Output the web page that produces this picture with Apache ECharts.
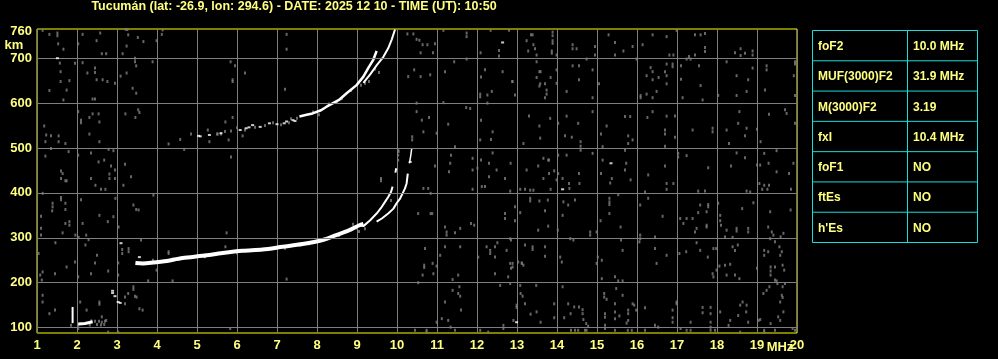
<!DOCTYPE html>
<html>
<head>
<meta charset="utf-8">
<script src="https://cdn.jsdelivr.net/npm/echarts@6/dist/echarts.min.js"></script>
<style>
html,body{margin:0;padding:0;background:#000;}
#chart{width:998px;height:359px;}
</style>
</head>
<body>
<div id="chart"></div>
<script>
// ---------- DATA ----------
const titleText = "Tucumán (lat: -26.9, lon: 294.6) - DATE: 2025 12 10 - TIME (UT): 10:50";
const heightTicks = [100, 200, 300, 400, 500, 600, 700, 760];
const freqTicks = [1,2,3,4,5,6,7,8,9,10,11,12,13,14,15,16,17,18,19,20];
const paramNames = ["foF2", "MUF(3000)F2", "M(3000)F2", "fxI", "foF1", "ftEs", "h'Es"];
const paramValues = ["10.0 MHz", "31.9 MHz", "3.19", "10.4 MHz", "NO", "NO", "NO"];

// F-layer first hop, thick common part [MHz, km]
const traceF = [[3.46,244],[3.64,243],[4.14,247],[4.64,255],[5.14,260],[5.64,266],[6.14,271],[6.64,274],[7.14,280],[7.64,286],[8.14,295],[8.48,306],[8.81,317],[9.06,328],[9.16,331]];
// O-mode branch near the critical frequency
const traceFO = [[9.06,328],[9.16,326],[9.33,339],[9.49,354],[9.62,369],[9.7,380],[9.78,391],[9.85,402],[9.89,414]];
const traceFOtop = [[9.96,445],[9.98,455]];
// X-mode branch
const traceFX = [[9.49,336],[9.62,343],[9.78,354],[9.91,365],[9.99,377],[10.08,388],[10.14,399],[10.2,410],[10.24,421],[10.27,443]];
const traceFXtop = [[10.31,466],[10.34,481],[10.37,500]];
// second hop: broken low part (white dots)
const hop2Dots = [[5.04,527],[5.08,526],[5.31,529],[5.6,533],[6.08,540],[6.23,544],[6.3,546],[6.39,551],[6.58,547],[6.81,555],[7.0,553],[7.18,555],[7.24,559],[7.4,562],[7.45,560]];
const hop2Gray = [[5.5,531],[5.7,537],[5.85,538],[6.0,545],[6.2,540],[6.45,546],[6.7,550],[6.9,556],[7.1,552],[7.3,556],[7.35,565],[7.5,566],[7.9,580],[8.05,574],[8.3,598],[8.5,602],[8.62,610],[8.85,628],[9.1,640],[9.2,644],[9.45,676],[9.55,668],[9.3,648]];
// second hop: continuous upper part
const hop2Main = [[7.56,570],[7.74,574],[7.89,577],[8.1,584],[8.24,592],[8.4,600],[8.55,607],[8.74,622],[8.99,640],[9.16,659],[9.28,678],[9.41,697],[9.49,716]];
const hop2Upper = [[9.16,645],[9.33,664],[9.49,684],[9.66,703],[9.78,722],[9.87,742],[9.95,764]];
// low echoes
const esVertical = [[1.89,110],[1.89,146]];
const traceE = [[2.03,108],[2.2,109],[2.39,113]];
const whiteSpecks = [[3.56,257],[3.1,288],[2.89,182],[2.89,177],[2.95,170],[3.03,157],[3.08,155],[12.64,735],[12.99,112],[15.35,466],[14.14,408],[10.33,469],[1.51,700]];
const grayNearTrace = [[2.45,114],[2.55,114],[2.62,112],[2.5,107],[2.6,106],[2.68,107],[2.7,114],[2.32,106],[2.36,115],[3.9,250],[4.4,252],[5.2,258],[6.0,266],[7.2,277],[7.8,287],[8.55,305],[8.7,312],[8.85,318],[9.0,322],[9.05,314],[8.9,330],[9.2,320],[10.03,495],[10.03,484],[10.03,473],[9.85,383]];

const noiseTop = [[1.14,762],[1.31,753],[1.51,756],[1.51,750],[1.53,732],[1.66,720],[1.57,689],[1.59,670],[1.59,648],[1.81,650],[1.31,628],[1.74,629],[1.66,607],[1.95,689],[2.03,732],[2.14,753],[2.14,690],[2.26,667],[2.45,678],[2.45,668],[2.49,739],[2.58,756],[2.62,710],[2.73,710],[2.49,652],[2.64,652],[2.76,648],[2.95,644],[2.39,609],[2.45,609],[3.09,660],[3.14,710],[3.22,764],[3.26,764],[3.24,727],[3.28,752],[3.39,633],[3.48,622],[3.24,667],[3.45,700],[3.45,692],[3.48,683],[3.52,746],[3.66,737],[3.99,739],[3.89,692],[4.14,763],[4.12,753],[3.53,585],[5.84,692],[5.95,683],[5.89,652],[5.89,648],[6.2,667],[7.2,631],[7.24,753],[7.24,720],[10.26,754],[10.41,754],[10.49,742],[10.56,740],[10.64,730],[10.76,730],[10.95,732],[10.59,712],[10.9,712],[11.16,762],[11.74,756],[11.74,748],[12.34,762],[12.8,762],[11.2,670],[11.43,692],[11.74,698],[12.09,712],[12.2,674],[12.55,717],[12.55,705],[12.88,648],[12.37,626],[12.08,620],[12.08,614],[11.73,590],[11.83,588],[12.26,618],[12.26,600],[11.16,601],[10.49,600],[10.49,581],[10.43,674],[10.28,659],[10.59,659],[10.83,663],[12.1,658],[13.24,739],[13.35,752],[13.39,752],[13.89,758],[13.89,750],[13.89,739],[13.89,733],[13.41,730],[13.28,716],[13.45,721],[13.87,716],[13.87,711],[13.49,707],[13.99,707],[14.39,730],[14.39,721],[14.49,721],[14.95,726],[14.95,707],[14.74,698],[15.29,752],[15.45,735],[15.45,707],[15.66,716],[15.89,726],[15.99,698],[16.14,730],[16.39,752],[16.74,748],[16.81,707],[16.91,707],[16.99,762],[17.45,752],[17.59,752],[17.7,755],[17.7,724],[17.7,715],[17.45,707],[17.3,704],[17.24,698],[17.34,698],[18.45,712],[18.59,721],[18.59,706],[18.7,711],[18.89,716],[18.89,707],[13.49,692],[13.56,670],[13.59,670],[12.64,670],[12.89,648],[12.95,618],[13.49,657],[13.84,657],[13.58,643],[13.7,643],[13.56,638],[13.74,629],[13.74,620],[13.7,612],[13.99,674],[13.99,644],[14.24,626],[14.39,683],[14.55,683],[14.55,652],[14.89,674],[14.89,612],[15.05,643],[16.24,661],[16.34,679],[16.39,670],[16.39,652],[16.54,657],[16.7,670],[16.74,661],[16.74,687],[16.89,687],[16.89,681],[16.49,626],[16.74,643],[16.09,617],[16.09,612],[16.24,620],[16.39,612],[17.1,683],[17.1,653],[17.14,612],[17.55,683],[17.59,639],[17.64,607],[18.03,617],[18.24,692],[18.49,661],[18.49,617],[18.74,626],[18.78,652],[18.89,678],[19.2,629],[19.24,683],[19.24,674],[19.92,661],[19.95,692],[19.95,687],[19.95,617]];

const noiseMid = [[2.03,581],[2.31,568],[2.39,576],[2.54,576],[2.1,562],[2.1,556],[2.56,558],[3.21,576],[3.46,568],[3.56,579],[1.18,549],[1.23,529],[1.35,527],[1.54,527],[1.54,514],[1.71,510],[1.21,514],[2.31,531],[2.56,514],[1.35,499],[1.21,482],[1.79,492],[2.03,484],[2.35,489],[2.54,469],[2.68,473],[2.79,497],[2.91,494],[2.85,460],[2.95,451],[2.81,442],[2.81,432],[2.95,432],[3.2,464],[1.6,449],[1.64,443],[1.71,427],[1.74,427],[1.6,432],[2.35,432],[2.46,417],[2.6,408],[2.71,408],[3.35,436],[3.16,417],[1.14,399],[1.6,390],[1.6,385],[1.39,377],[1.39,369],[1.71,377],[1.38,360],[1.71,363],[2.1,385],[1.1,348],[1.81,336],[1.81,328],[1.71,332],[2.14,332],[2.56,350],[2.77,336],[2.91,347],[2.96,388],[3.41,373],[3.48,363],[3.54,362],[3.91,395],[1.1,321],[1.1,306],[1.64,311],[1.96,306],[2.04,301],[2.23,306],[2.29,296],[3.04,324],[1.46,289],[2.21,284],[2.5,261],[1.04,265],[3.13,274],[3.13,265],[3.29,276],[3.29,269],[3.6,295],[4.29,269],[4.29,265],[4.68,497],[4.58,519],[4.29,509],[4.85,531],[5.27,540],[5.31,514],[5.52,531],[5.6,531],[5.71,558],[5.89,568],[5.79,518],[5.85,480],[5.74,311],[5.71,280],[6.14,527],[9.6,432],[9.6,427],[10.04,492],[10.38,525],[10.38,518],
[10.62,562],[10.8,568],[10.66,536],[10.99,533],[11.28,553],[11.35,484],[11.33,466],[11.89,477],[11.89,451],[12.1,562],[12.08,518],[12.39,536],[12.39,489],[12.1,473],[12.3,466],[12.3,436],[12.49,451],[12.7,432],[12.84,466],[12.12,414],[12.2,414],[11.89,408],[12.83,404],[13.3,571],[13.56,549],[13.58,522],[13.83,566],[13.16,510],[13.24,451],[13.53,460],[13.66,477],[13.78,473],[13.66,432],[13.99,429],[13.33,406],[13.41,406],[13.08,408],[13.2,408],[13.84,408],[14.03,555],[14.24,571],[14.2,527],[14.37,524],[14.59,514],[14.59,504],[14.59,495],[14.53,555],[14.89,581],[14.89,488],[14.3,421],[14.03,443],[14.14,432],[14.55,443],[15.1,531],[15.24,549],[15.14,503],[15.14,473],[15.1,443],[15.37,432],[15.33,422],[15.73,466],[15.7,495],[15.7,451],[15.84,429],[15.78,510],[15.7,570],[15.83,570],[15.78,527],[15.89,518],[16.26,568],[16.39,581],[16.74,571],[16.95,571],[16.7,540],[16.7,531],[16.95,524],[16.7,504],[17.03,488],[17.03,480],[17.24,483],[16.7,460],[16.28,440],[16.74,421],[16.74,408],[16.91,421],[17.39,540],[17.89,544],[17.89,536],[18.24,540],[18.53,555],[18.74,544],[18.7,527],[18.3,510],[18.56,581],[19.0,542],[19.3,575],[19.09,514],[19.49,494],[19.74,577],[19.7,585],[19.95,555],[18.49,489],[18.7,478],[19.0,462],[19.08,462],[19.29,466],[19.49,447],[19.8,443],[19.91,466],[18.35,460],[17.78,456],[19.18,488],[19.06,421],[19.18,417],[19.13,408],[19.26,408],[19.3,417],[19.85,408],[17.53,404],[17.7,404],[18.74,404],[18.83,402],[16.2,402],[16.28,388],[16.08,373],[15.53,396],[15.31,388],[15.31,380],[15.31,374],[15.59,324],[15.09,338],[15.31,354],[14.83,313],[14.83,306],[14.99,313],[15.02,257],[15.12,250],[15.6,295],[15.64,272],[16.08,306],[16.08,298],[16.45,302],[16.45,276],[16.74,261],[16.64,348],[17.08,343],[17.24,343],[17.39,343],[17.16,332],[17.49,321],[17.45,313],[17.74,328],[17.74,324],[17.58,373],[17.78,374],[17.78,369],[17.74,358],[18.08,350],[18.08,338],[18.1,328],[18.03,377],[18.24,317],[18.49,321],[18.49,315],[18.78,321],[18.78,313],[18.2,302],[18.39,301],[18.63,365],[18.91,378],[19.33,358],[19.28,324],[19.37,313],[19.41,306],[19.33,298],[19.45,291],[19.59,302],[19.56,280],[19.62,269],[19.58,261],[19.84,362],[19.66,310],[19.18,272],[19.18,261],[19.28,269],[18.39,280],[18.45,272],[18.52,284],[17.91,276],[17.98,276],[17.77,257],[17.58,272],[17.49,289],[17.23,269],[17.06,265],[16.06,291],[14.33,298],[14.41,295],[14.08,257],[14.12,246],[13.7,280],[13.7,259],[13.39,280],[13.39,274],[13.2,284],[13.03,246],[13.12,244],[12.83,298],[12.51,289],[12.45,280],[12.24,280],[12.33,272],[12.33,265],[12.03,257],[12.45,257],[12.74,272],[12.85,295],[11.85,332],[11.93,328],[11.58,321],[11.45,311],[11.2,324],[11.24,313],[11.24,306],[10.53,354],[10.84,354],[10.88,354],[10.7,276],[11.08,261],[11.2,280],[11.58,280],[13.08,356],[12.95,369],[12.7,354],[12.7,343],[12.95,338],[13.33,388],[13.33,382],[13.56,382],[13.7,360],[13.77,384],[14.16,380],[14.28,373],[14.45,384],[14.14,350],[13.53,317],[13.78,326],[14.02,317],[17.53,356],[10.66,410],[10.78,410],[10.84,399],[14.31,410],[14.56,421],[14.24,484],[14.03,484],[12.35,519],[11.45,503],[10.95,460],[11.3,447],[12.01,455],[13.8,473],[13.8,443],[13.93,449]];

const noiseLow = [[1.08,217],[1.12,206],[1.14,224],[1.45,220],[1.74,235],[1.95,246],[2.03,213],[2.35,220],[2.45,244],[2.78,226],[3.03,244],[3.03,217],[1.14,172],[1.14,157],[1.31,131],[1.45,139],[2.08,157],[2.24,139],[2.56,157],[2.56,152],[2.62,124],[2.73,116],[3.2,168],[3.28,176],[3.41,191],[3.41,185],[3.45,170],[3.49,168],[3.2,153],[3.56,142],[3.64,139],[3.78,204],[3.99,228],[4.39,204],[2.78,90],[3.03,90],[1.85,105],[2.03,105],[2.03,98],[5.83,98],[7.24,208],[10.45,94],[10.74,94],[10.74,90],[10.99,112],[11.12,120],[11.28,116],[11.34,101],[11.45,94],[11.6,139],[11.2,157],[11.39,183],[11.53,176],[11.58,170],[11.56,191],[11.39,207],[11.53,217],[10.68,239],[10.68,234],[10.89,243],[10.91,220],[10.64,217],[10.53,200],[10.99,237],[12.08,94],[12.28,90],[12.45,220],[12.58,194],[12.66,105],[12.66,98],[12.78,213],[12.83,198],[12.85,232],[12.89,243],[12.91,116],[13.12,243],[13.16,239],[12.83,243],[12.89,235],[13.08,194],[13.09,176],[13.14,170],[12.99,150],[12.99,145],[13.2,153],[13.48,194],[13.49,135],[13.34,130],[13.59,112],[13.93,153],[13.93,122],[14.14,191],[14.18,122],[14.28,153],[14.34,131],[14.43,146],[14.55,146],[14.64,140],[14.64,131],[14.66,118],[14.73,109],[14.78,103],[14.35,94],[14.45,94],[14.53,94],[14.7,94],[14.74,94],[14.99,243],[15.12,209],[15.18,176],[15.18,168],[15.24,163],[15.2,131],[15.2,123],[15.2,105],[15.2,98],[15.45,213],[15.53,204],[15.64,204],[15.45,153],[15.45,135],[15.45,120],[15.45,94],[15.48,187],[15.56,126],[15.64,172],[15.78,139],[15.78,131],[15.78,116],[15.74,110],[15.77,94],[15.87,94],[15.89,153],[15.93,150],[15.98,139],[16.2,144],[16.2,94],[16.49,243],[16.45,105],[16.53,101],[16.89,139],[16.89,122],[16.89,112],[16.99,157],[16.99,153],[17.09,98],[17.24,94],[17.34,94],[17.34,112],[17.64,145],[17.64,133],[17.84,145],[17.84,131],[17.84,112],[17.84,101],[17.84,94],[17.95,94],[17.89,220],[17.91,213],[17.99,228],[18.06,237],[18.2,239],[18.33,241],[18.24,217],[18.45,217],[18.56,209],[18.08,135],[18.33,116],[18.29,105],[18.53,127],[18.58,150],[18.64,157],[18.74,150],[18.73,135],[18.78,112],[19.0,232],[19.04,116],[19.08,118],[19.34,235],[19.34,226],[19.34,217],[19.45,235],[19.64,239],[19.68,228],[19.45,206],[19.49,204],[19.51,198],[19.64,191],[19.7,198],[19.31,191],[19.24,183],[19.62,172],[19.64,167],[19.16,176],[19.58,157],[19.66,135],[19.53,124],[19.58,116],[19.34,109],[19.45,94],[19.18,94],[19.18,90],[19.89,98],[19.95,94],[18.58,90]];

// ---------- STYLE / LAYOUT ----------
const YELLOW = '#ffff80';
const GRAY = '#7f7f7f';
const FONT = 'Liberation Sans';
const chart = echarts.init(document.getElementById('chart'), null, {renderer: 'canvas'});

function lineSeries(data, width, smooth) {
  return {type: 'line', data: data, symbol: 'none', silent: true, z: 4, smooth: smooth || false,
          lineStyle: {color: '#ffffff', width: width}, animation: false};
}

// table graphic
const tbl = {x: 812.5, y: 30.5, w: 165, h: 212, split: 907.5};
const rowH = tbl.h / paramNames.length;
const tableEls = [{type: 'rect', shape: {x: tbl.x, y: tbl.y, width: tbl.w, height: tbl.h},
  style: {fill: 'transparent', stroke: '#19dcdc', lineWidth: 1}},
  {type: 'line', shape: {x1: tbl.split, y1: tbl.y, x2: tbl.split, y2: tbl.y + tbl.h},
  style: {stroke: '#19dcdc', lineWidth: 1}}];
paramNames.forEach(function (name, i) {
  const cy = tbl.y + rowH * i + rowH / 2 + 1;
  if (i > 0) tableEls.push({type: 'line', shape: {x1: tbl.x, y1: tbl.y + rowH * i, x2: tbl.x + tbl.w, y2: tbl.y + rowH * i},
    style: {stroke: '#19dcdc', lineWidth: 1}});
  tableEls.push({type: 'text', x: 818, y: cy, style: {text: name, fill: YELLOW, font: 'bold 12px ' + FONT, verticalAlign: 'middle', align: 'left'}});
  tableEls.push({type: 'text', x: 913, y: cy, style: {text: paramValues[i], fill: YELLOW, font: 'bold 12px ' + FONT, verticalAlign: 'middle', align: 'left'}});
});

const option = {
  backgroundColor: '#000000',
  animation: false,
  grid: {left: 37, top: 29, width: 760, height: 304, show: true, borderColor: '#ffff00', borderWidth: 1,
         backgroundColor: 'transparent', containLabel: false, outerBoundsMode: 'none'},
  xAxis: {type: 'value', min: freqTicks[0], max: freqTicks[freqTicks.length - 1], interval: 1,
    axisLine: {show: false}, axisTick: {show: false},
    splitLine: {show: true, lineStyle: {color: GRAY, width: 1}},
    axisLabel: {color: YELLOW, fontFamily: FONT, fontWeight: 'bold', fontSize: 13, margin: 6, showMinLabel: true, showMaxLabel: true}},
  yAxis: {type: 'value', min: 88, max: 765,
    axisLine: {show: false}, axisTick: {show: false}, splitLine: {show: false},
    axisLabel: {customValues: heightTicks, color: YELLOW, fontFamily: FONT, fontWeight: 'bold', fontSize: 13, margin: 5}},
  graphic: [
    {type: 'text', x: 294, y: 7, style: {text: titleText, fill: YELLOW, font: 'bold 12.5px ' + FONT, align: 'center', verticalAlign: 'middle'}},
    {type: 'text', x: 14, y: 45, style: {text: 'km', fill: YELLOW, font: 'bold 13px ' + FONT, align: 'center', verticalAlign: 'middle'}},
    {type: 'text', x: 780, y: 347, style: {text: 'MHz', fill: YELLOW, font: 'bold 13px ' + FONT, align: 'center', verticalAlign: 'middle'}}
  ].concat(tableEls),
  series: [
    {type: 'line', data: [], z: 1, silent: true,
     markLine: {silent: true, symbol: 'none', label: {show: false}, animation: false,
       lineStyle: {color: GRAY, width: 1, type: 'solid'},
       data: heightTicks.filter(function (h) { return h !== 760; }).map(function (h) { return {yAxis: h}; })}},
    {type: 'scatter', data: noiseTop.concat(noiseMid, noiseLow, grayNearTrace, hop2Gray), symbol: 'rect', symbolSize: [2, 3],
     itemStyle: {color: GRAY}, silent: true, z: 2},
    lineSeries(traceF, 4, 0.3),
    lineSeries(traceFO, 2),
    lineSeries(traceFOtop, 2),
    lineSeries(traceFX, 2),
    lineSeries(traceFXtop, 1.5),
    lineSeries(hop2Main, 2.5),
    lineSeries(hop2Upper, 2),
    lineSeries(esVertical, 2),
    lineSeries(traceE, 3),
    {type: 'scatter', data: hop2Dots.concat(whiteSpecks), symbol: 'rect', symbolSize: [3, 2],
     itemStyle: {color: '#ffffff'}, silent: true, z: 5}
  ]
};
chart.setOption(option);
</script>
</body>
</html>
